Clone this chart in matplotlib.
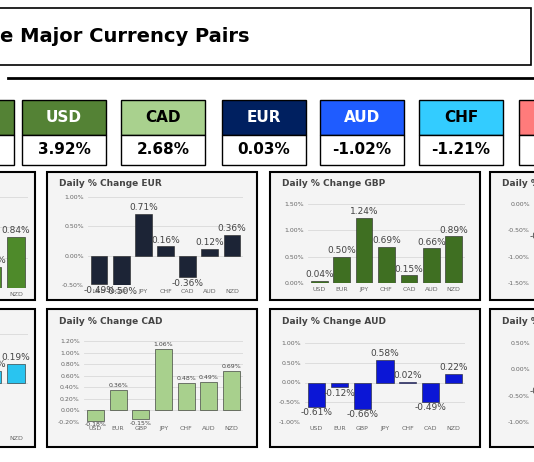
import matplotlib.pyplot as plt
from matplotlib.patches import Rectangle

plt.rcParams["font.family"] = ["DejaVu Sans"]

W, H = 534, 462
CATS_ALL = ["USD", "EUR", "GBP", "JPY", "CHF", "CAD", "AUD", "NZD"]

tile_names = ["", "USD", "CAD", "EUR", "AUD", "CHF", ""]
tile_values = ["", "3.92%", "2.68%", "0.03%", "-1.02%", "-1.21%", ""]
tile_colors = ["#548235", "#548235", "#a9d18e", "#002060", "#1f5cff", "#33ccff", "#ff7b7b"]
tile_text = ["white", "white", "black", "white", "white", "black", "white"]

eur_vals = [-0.49, -0.50, 0.71, 0.16, -0.36, 0.12, 0.36]
gbp_vals = [0.04, 0.50, 1.24, 0.69, 0.15, 0.66, 0.89]
cad_vals = [-0.18, 0.36, -0.15, 1.06, 0.48, 0.49, 0.69]
aud_vals = [-0.61, -0.12, -0.66, 0.58, 0.02, -0.49, 0.22]
usd_vals = [0.30, 0.45, 0.60, 0.20, 0.40, 0.35, 0.84]
chf_vals = [0.05, 0.10, -0.05, 0.30, 0.10, 0.12, 0.19]
jpy_vals = [-0.5, -0.6, -0.7, -0.8, -0.6, -0.9, -0.5]
nzd_vals = [-0.3, -0.4, -0.2, -0.5, -0.3, -0.4, -0.2]

fig = plt.figure(figsize=(W / 100, H / 100), dpi=100)


def fx(x):
    return x / W


def fy(y):
    return 1 - y / H


def box(x0, y0, x1, y1, fc, ec="black", lw=1.5):
    fig.patches.append(Rectangle((fx(x0), fy(y1)), fx(x1) - fx(x0), fy(y0) - fy(y1),
                                 transform=fig.transFigure, fc=fc, ec=ec, lw=lw, zorder=0))


# header
box(-5, 8, 531, 65, "white", lw=1.2)
fig.text(fx(0), fy(36), "e Major Currency Pairs", fontsize=14, fontweight="bold", va="center")
fig.add_artist(plt.Line2D([fx(8), fx(534)], [fy(78), fy(78)], color="black", lw=2,
                          transform=fig.transFigure))

# tiles
tile_x = [-70, 22, 121, 222, 320, 419, 519]
for x0, name, val, c, tc in zip(tile_x, tile_names, tile_values, tile_colors, tile_text):
    box(x0, 100, x0 + 84, 135, c, lw=1)
    box(x0, 135, x0 + 84, 165, "white", lw=1)
    fig.text(fx(x0 + 42), fy(117), name, color=tc, fontsize=11, fontweight="bold",
             ha="center", va="center")
    fig.text(fx(x0 + 42), fy(150), val, fontsize=11, fontweight="bold",
             ha="center", va="center")


def panel(x0, y0, x1, y1, title, cats, vals, color, ylim, step, ax_box, fmt_lab=6.5):
    box(x0, y0, x1, y1, "#f4f4f4")
    fig.text(fx(x0 + 12), fy(y0 + 12), title, fontsize=6.5, fontweight="bold",
             color="#444444", va="center")
    ax = fig.add_axes([fx(ax_box[0]), fy(ax_box[3]), fx(ax_box[2]) - fx(ax_box[0]),
                       fy(ax_box[1]) - fy(ax_box[3])])
    ax.set_zorder(5)
    ax.patch.set_visible(False)
    ax.bar(range(len(cats)), vals, width=0.75, color=color, edgecolor="#222222", lw=0.4, zorder=3)
    ax.set_ylim(*ylim)
    ticks = []
    t = ylim[0]
    while t <= ylim[1] + 1e-9:
        ticks.append(round(t, 2))
        t += step
    ax.set_yticks(ticks)
    ax.set_yticklabels([f"{t:.2f}%" for t in ticks], fontsize=4.5, color="#666666")
    ax.set_xticks(range(len(cats)))
    ax.set_xticklabels(cats, fontsize=4.5, color="#666666")
    ax.tick_params(length=0, pad=3)
    ax.grid(axis="y", color="#d9d9d9", lw=0.6, zorder=0)
    for s in ax.spines.values():
        s.set_visible(False)
    ax.set_xlim(-0.5, len(cats) - 0.5)
    span = ylim[1] - ylim[0]
    for i, v in enumerate(vals):
        off = 0.02 * span if v >= 0 else -0.02 * span
        ax.text(i, v + off, f"{v:.2f}%", ha="center", va="bottom" if v >= 0 else "top",
                fontsize=fmt_lab, color="#444444", zorder=4)
    return ax


def others(name):
    return [c for c in CATS_ALL if c != name]


# row 1
panel(-180, 172, 35, 300, "", others("USD"), usd_vals, "#4e8a2a", (0, 1.5), 0.5,
      (-140, 197, 28, 288))
panel(47, 172, 257, 300, "Daily % Change EUR", others("EUR"), eur_vals, "#1c2436",
      (-0.5, 1.0), 0.5, (88, 197, 243, 285))
panel(270, 172, 480, 300, "Daily % Change GBP", others("GBP"), gbp_vals, "#3f6f22",
      (0, 1.5), 0.5, (308, 204, 465, 283))
panel(490, 172, 700, 300, "Daily % Change JPY", others("JPY"), jpy_vals, "#ff7b7b",
      (-1.5, 0), 0.5, (534, 204, 690, 283))

# row 2
panel(-180, 309, 35, 447, "", others("CHF"), chf_vals, "#29c4f0", (-0.5, 0.5), 0.5,
      (-140, 334, 28, 432))
panel(47, 309, 257, 447, "Daily % Change CAD", others("CAD"), cad_vals, "#a8d08d",
      (-0.2, 1.2), 0.2, (84, 341, 243, 422), fmt_lab=4.5)
panel(270, 309, 480, 447, "Daily % Change AUD", others("AUD"), aud_vals, "#0b16d6",
      (-1.0, 1.0), 0.5, (305, 343, 465, 422))
panel(490, 309, 700, 447, "Daily % Change NZD", others("NZD"), nzd_vals, "#ff7b7b",
      (-1.0, 0.5), 0.5, (534, 343, 690, 422))

fig.savefig("out.png", dpi=100)
